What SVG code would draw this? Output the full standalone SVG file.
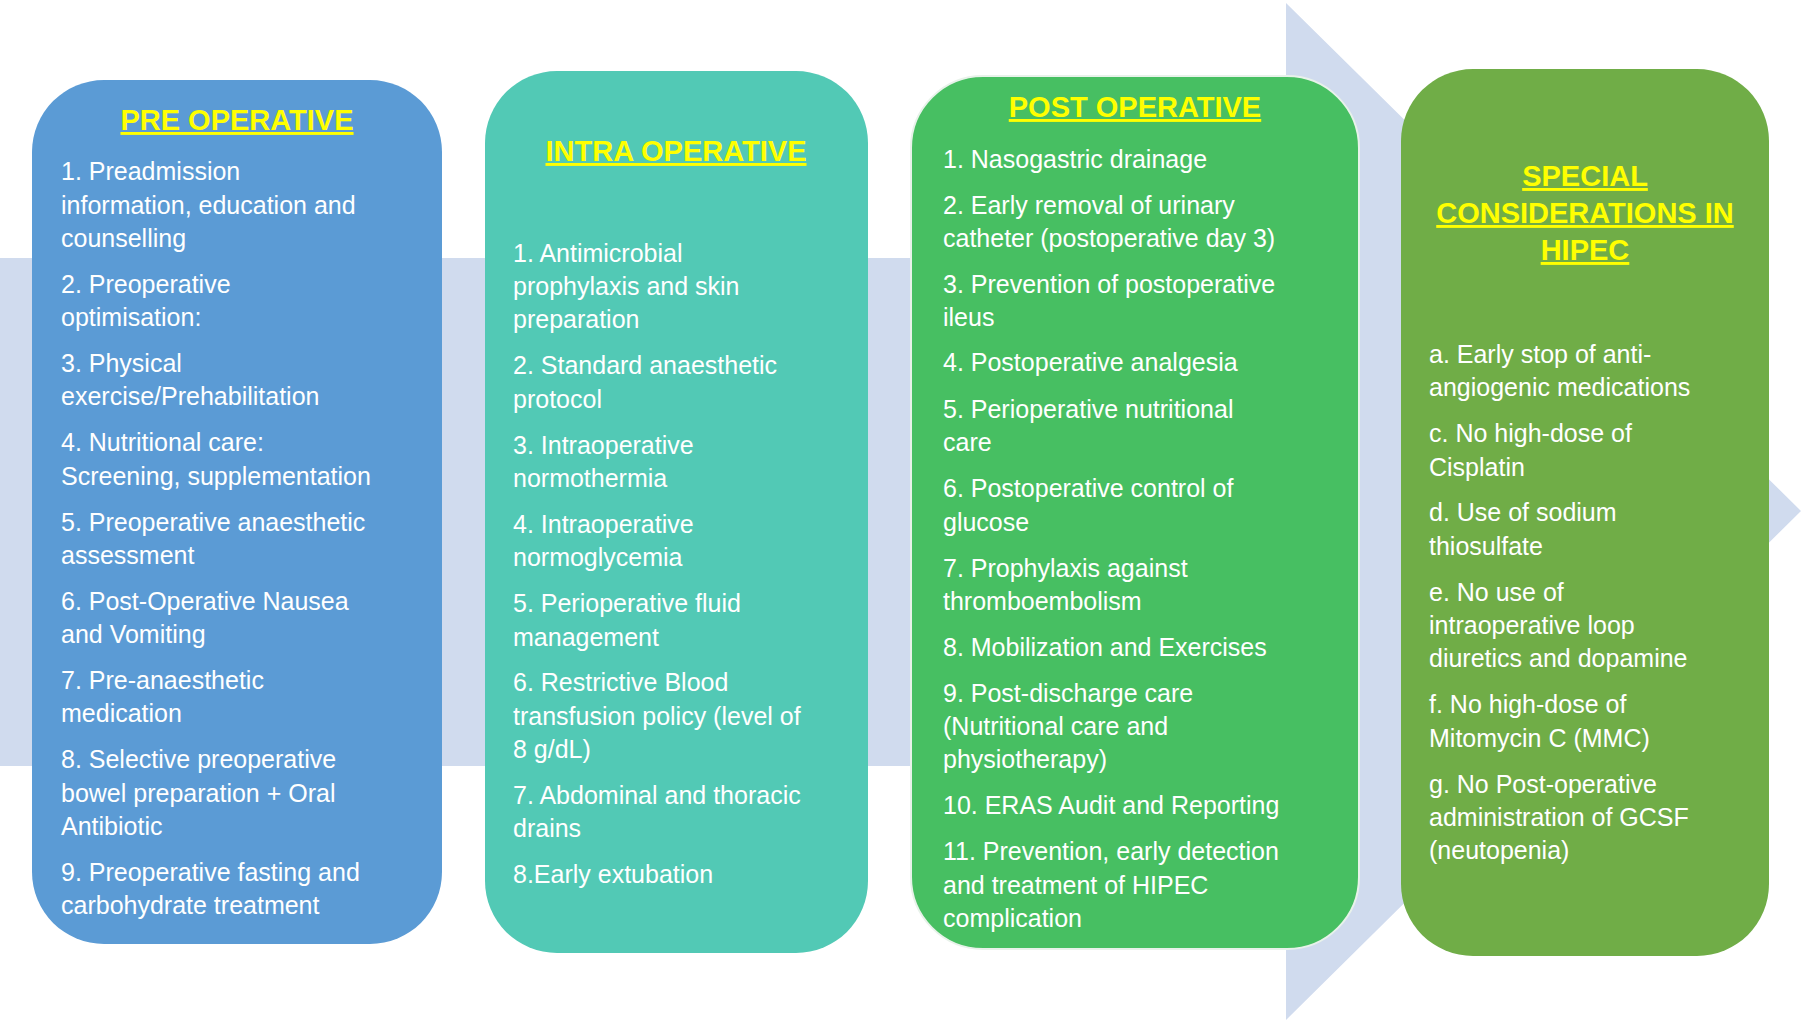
<svg xmlns="http://www.w3.org/2000/svg" width="1801" height="1025" viewBox="0 0 1801 1025">
<style>
.t{font-family:"Liberation Sans",Arial,sans-serif;font-size:25px;fill:#fff}
.h{font-family:"Liberation Sans",Arial,sans-serif;font-size:29px;font-weight:bold;fill:#FFFF00;text-decoration:underline;text-anchor:middle}
</style>
<rect width="1801" height="1025" fill="#fff"/>
<g id="connectors">
<path d="M0 258 H1286 V3 L1801 511 L1286 1020 V766 H0 Z" fill="#D0DBEE"/>
</g>
<g id="pre">
<rect x="32" y="80" width="410" height="864" rx="72" fill="#5B9BD5"/>
<text class="h" x="237" y="130">PRE OPERATIVE</text>
<text class="t" x="61" y="180">1. Preadmission</text>
<text class="t" x="61" y="214">information, education and</text>
<text class="t" x="61" y="247">counselling</text>
<text class="t" x="61" y="293">2. Preoperative</text>
<text class="t" x="61" y="326">optimisation:</text>
<text class="t" x="61" y="372">3. Physical</text>
<text class="t" x="61" y="405">exercise/Prehabilitation</text>
<text class="t" x="61" y="451">4. Nutritional care:</text>
<text class="t" x="61" y="485">Screening, supplementation</text>
<text class="t" x="61" y="531">5. Preoperative anaesthetic</text>
<text class="t" x="61" y="564">assessment</text>
<text class="t" x="61" y="610">6. Post-Operative Nausea</text>
<text class="t" x="61" y="643">and Vomiting</text>
<text class="t" x="61" y="689">7. Pre-anaesthetic</text>
<text class="t" x="61" y="722">medication</text>
<text class="t" x="61" y="768">8. Selective preoperative</text>
<text class="t" x="61" y="802">bowel preparation + Oral</text>
<text class="t" x="61" y="835">Antibiotic</text>
<text class="t" x="61" y="881">9. Preoperative fasting and</text>
<text class="t" x="61" y="914">carbohydrate treatment</text>
</g>
<g id="intra">
<rect x="485" y="71" width="383" height="882" rx="72" fill="#52C9B5"/>
<text class="h" x="676" y="161">INTRA OPERATIVE</text>
<text class="t" x="513" y="262">1. Antimicrobial</text>
<text class="t" x="513" y="295">prophylaxis and skin</text>
<text class="t" x="513" y="328">preparation</text>
<text class="t" x="513" y="374">2. Standard anaesthetic</text>
<text class="t" x="513" y="408">protocol</text>
<text class="t" x="513" y="454">3. Intraoperative</text>
<text class="t" x="513" y="487">normothermia</text>
<text class="t" x="513" y="533">4. Intraoperative</text>
<text class="t" x="513" y="566">normoglycemia</text>
<text class="t" x="513" y="612">5. Perioperative fluid</text>
<text class="t" x="513" y="646">management</text>
<text class="t" x="513" y="691">6. Restrictive Blood</text>
<text class="t" x="513" y="725">transfusion policy (level of</text>
<text class="t" x="513" y="758">8 g/dL)</text>
<text class="t" x="513" y="804">7. Abdominal and thoracic</text>
<text class="t" x="513" y="837">drains</text>
<text class="t" x="513" y="883">8.Early extubation</text>
</g>
<g id="post">
<rect x="911" y="76" width="448" height="873" rx="72" fill="#47BF62" stroke="#E8F2EA" stroke-width="2"/>
<text class="h" x="1135" y="117">POST OPERATIVE</text>
<text class="t" x="943" y="168">1. Nasogastric drainage</text>
<text class="t" x="943" y="214">2. Early removal of urinary</text>
<text class="t" x="943" y="247">catheter (postoperative day 3)</text>
<text class="t" x="943" y="293">3. Prevention of postoperative</text>
<text class="t" x="943" y="326">ileus</text>
<text class="t" x="943" y="371">4. Postoperative analgesia</text>
<text class="t" x="943" y="418">5. Perioperative nutritional</text>
<text class="t" x="943" y="451">care</text>
<text class="t" x="943" y="497">6. Postoperative control of</text>
<text class="t" x="943" y="531">glucose</text>
<text class="t" x="943" y="577">7. Prophylaxis against</text>
<text class="t" x="943" y="610">thromboembolism</text>
<text class="t" x="943" y="656">8. Mobilization and Exercises</text>
<text class="t" x="943" y="702">9. Post-discharge care</text>
<text class="t" x="943" y="735">(Nutritional care and</text>
<text class="t" x="943" y="768">physiotherapy)</text>
<text class="t" x="943" y="814">10. ERAS Audit and Reporting</text>
<text class="t" x="943" y="860">11. Prevention, early detection</text>
<text class="t" x="943" y="894">and treatment of HIPEC</text>
<text class="t" x="943" y="927">complication</text>
</g>
<g id="special">
<rect x="1401" y="69" width="368" height="887" rx="72" fill="#70AD47"/>
<text class="h" x="1585" y="186">SPECIAL</text>
<text class="h" x="1585" y="223">CONSIDERATIONS IN</text>
<text class="h" x="1585" y="260">HIPEC</text>
<text class="t" x="1429" y="363">a. Early stop of anti-</text>
<text class="t" x="1429" y="396">angiogenic medications</text>
<text class="t" x="1429" y="442">c. No high-dose of</text>
<text class="t" x="1429" y="476">Cisplatin</text>
<text class="t" x="1429" y="521">d. Use of sodium</text>
<text class="t" x="1429" y="555">thiosulfate</text>
<text class="t" x="1429" y="601">e. No use of</text>
<text class="t" x="1429" y="634">intraoperative loop</text>
<text class="t" x="1429" y="667">diuretics and dopamine</text>
<text class="t" x="1429" y="713">f. No high-dose of</text>
<text class="t" x="1429" y="747">Mitomycin C (MMC)</text>
<text class="t" x="1429" y="793">g. No Post-operative</text>
<text class="t" x="1429" y="826">administration of GCSF</text>
<text class="t" x="1429" y="859">(neutopenia)</text>
</g>
</svg>
